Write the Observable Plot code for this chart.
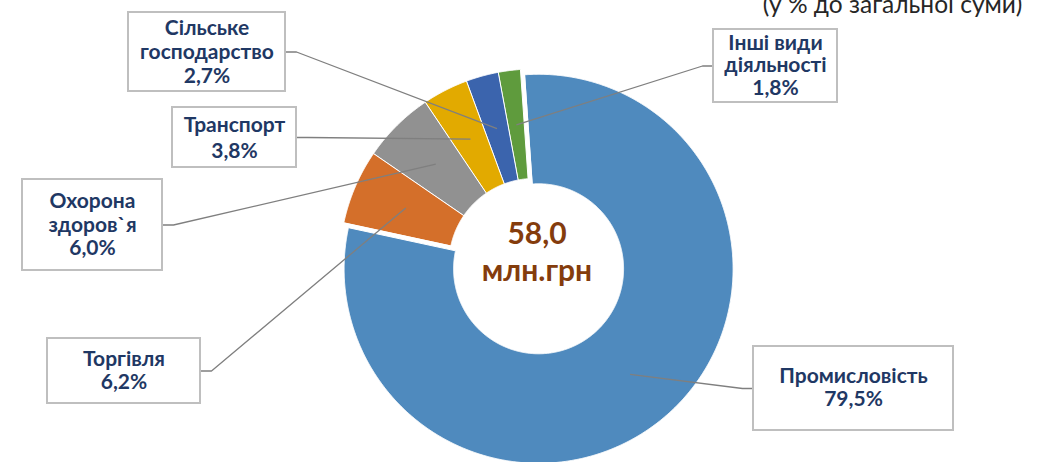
<!DOCTYPE html>
<html><head><meta charset="utf-8">
<script src="https://cdn.jsdelivr.net/npm/d3@7"></script>
<script src="https://cdn.jsdelivr.net/npm/@observablehq/plot@0.6"></script>
<style>html,body{margin:0;padding:0;background:#fff}#chart{width:1046px;height:462px;overflow:hidden}</style>
</head><body><div id="chart"></div>
<script>
// ---- data ----
const categories = ["Промисловість", "Торгівля", "Охорона здоров`я", "Транспорт", "Сільське господарство", "Інші види діяльності"];
const shares = [79.5, 6.2, 6.0, 3.8, 2.7, 1.8];
const labelNames = ["Промисловість", "Торгівля", "Охорона\nздоров`я", "Транспорт", "Сільське\nгосподарство", "Інші види\nдіяльності"];
const totalValue = "58,0";
const totalUnit = "млн.грн";
const titleText = "(у % до загальної суми)";

// ---- styles ----
const colors = ["#4F8ABE", "#D46F2A", "#919191", "#E2AA00", "#3B64AD", "#5F9B3D"];
const labelColor = "#1F3864";
const centerColor = "#843C0C";
const font = "Lato, 'Noto Sans', sans-serif";

// ---- layout ----
const W = 1046, H = 462;
const cx = 533.5, cy = 263, rOuter = 194.5, rInner = 85, explode = 7, startDeg = -4;
const boxes = [ // x1, y1, x2, y2, anchor side, line height (em)
  {x1: 753, y1: 346, x2: 953, y2: 430, side: "left", lh: 1.08},
  {x1: 47, y1: 338, x2: 200, y2: 403, side: "right", lh: 1.08},
  {x1: 22, y1: 179, x2: 162, y2: 270, side: "right", lh: 1.12},
  {x1: 172, y1: 107, x2: 296, y2: 167, side: "right", lh: 1.24},
  {x1: 128, y1: 12, x2: 285, y2: 91, side: "right", lh: 1.14},
  {x1: 713, y1: 29, x2: 837, y2: 102, side: "left", lh: 1.08}
];

const rad = Math.PI / 180;
const arcs = d3.pie().sort(null).startAngle(startDeg * rad).endAngle((startDeg + 360) * rad)(shares);

const slices = arcs.map((a, i) => {
  const mid = (a.startAngle + a.endAngle) / 2;
  const off = i === 0 ? explode : 0;
  const ox = cx + off * Math.sin(mid), oy = cy - off * Math.cos(mid);
  const n = Math.max(8, Math.ceil((a.endAngle - a.startAngle) / (0.25 * rad)));
  const pts = [];
  for (let k = 0; k <= n; k++) {
    const t = a.startAngle + (a.endAngle - a.startAngle) * k / n;
    pts.push({x: ox + rOuter * Math.sin(t), y: oy - rOuter * Math.cos(t)});
  }
  for (let k = n; k >= 0; k--) {
    const t = a.startAngle + (a.endAngle - a.startAngle) * k / n;
    pts.push({x: ox + rInner * Math.sin(t), y: oy - rInner * Math.cos(t)});
  }
  const rc = (rOuter + rInner) / 2;
  const centroid = {x: ox + rc * Math.sin(mid), y: oy - rc * Math.cos(mid)};
  return {pts, color: colors[i], centroid};
});

const labels = boxes.map((b, i) => ({
  ...b,
  cxText: (b.x1 + b.x2) / 2,
  cyText: (b.y1 + b.y2) / 2 - 1,
  text: labelNames[i] + "\n" + shares[i].toFixed(1).replace(".", ",") + "%"
}));

const leaders = labels.map((b, i) => {
  const ay = (b.y1 + b.y2) / 2;
  const ax = b.side === "left" ? b.x1 : b.x2;
  const ex = b.side === "left" ? ax - 11 : ax + 11;
  return [{x: ax, y: ay}, {x: ex, y: ay}, slices[i].centroid];
});

const marks = [];
slices.forEach(s => marks.push(Plot.line(s.pts, {x: "x", y: "y", curve: "linear-closed", fill: s.color, stroke: "white", strokeWidth: 1})));
leaders.forEach(l => marks.push(Plot.line(l, {x: "x", y: "y", stroke: "#7F7F7F", strokeWidth: 1.3, strokeLinecap: "butt"})));
marks.push(Plot.rect(labels, {x1: "x1", x2: "x2", y1: "y1", y2: "y2", fill: "white", stroke: "#BFBFBF", strokeWidth: 2}));
labels.forEach(l => marks.push(Plot.text([l], {x: "cxText", y: "cyText", text: "text", fill: labelColor, fontSize: 21, fontWeight: "bold", fontFamily: font, lineHeight: l.lh, lineAnchor: "middle", textAnchor: "middle"})));
marks.push(Plot.text([totalValue], {x: () => cx + 3, y: () => 243, text: d => d, fill: centerColor, fontSize: 30, fontWeight: "bold", fontFamily: font, lineAnchor: "bottom"}));
marks.push(Plot.text([totalUnit], {x: () => cx + 3, y: () => 280, text: d => d, fill: centerColor, fontSize: 30, fontWeight: "bold", fontFamily: font, lineAnchor: "bottom"}));
marks.push(Plot.text([titleText], {x: () => 892, y: () => 12.5, text: d => d, fill: "#262626", fontSize: 24.5, fontFamily: font, lineAnchor: "bottom"}));

const chart = Plot.plot({
  width: W, height: H,
  marginTop: 0, marginRight: 0, marginBottom: 0, marginLeft: 0,
  x: {domain: [0, W], range: [0, W], axis: null},
  y: {domain: [0, H], range: [0, H], axis: null},
  style: {background: "white", fontFamily: font},
  marks
});
document.getElementById("chart").appendChild(chart);
</script>
</body></html>
